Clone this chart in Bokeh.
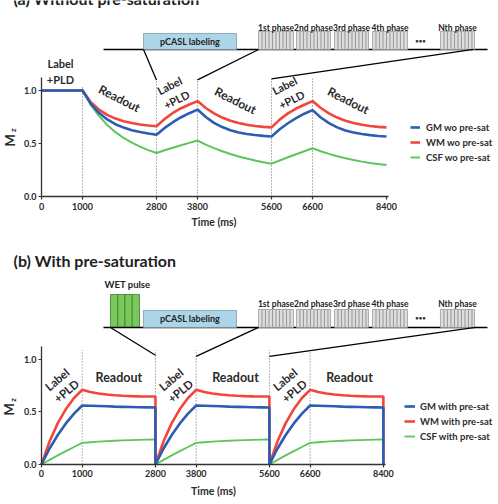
import math
from bokeh.plotting import figure
from bokeh.models import Range1d, Legend, LegendItem, FixedTicker, PrintfTickFormatter
from bokeh.layouts import column
from bokeh.embed import file_html
from bokeh.resources import INLINE
from bokeh.core.properties import value

FONT = "Lato"
TXT = "#2b2b2b"
BLUE = "#2d5db3"
RED = "#f2463c"
GREEN = "#5fc45a"

# ---------------- data: panel (a) without pre-saturation ----------------
time_a = [0, 1000, 1200, 1400, 1600, 1800, 2000, 2200, 2400, 2600, 2800,
          3000, 3200, 3400, 3600, 3800,
          4000, 4200, 4400, 4600, 4800, 5000, 5200, 5400, 5600,
          5800, 6000, 6200, 6400, 6600,
          6800, 7000, 7200, 7400, 7600, 7800, 8000, 8200, 8400]
gm_a = [1.0, 1.0, 0.875, 0.79, 0.727, 0.682, 0.65, 0.626, 0.608, 0.594, 0.582,
        0.647, 0.701, 0.748, 0.786, 0.82,
        0.75, 0.695, 0.655, 0.625, 0.603, 0.59, 0.58, 0.572, 0.566,
        0.634, 0.691, 0.74, 0.781, 0.815,
        0.745, 0.692, 0.652, 0.623, 0.603, 0.589, 0.579, 0.571, 0.566]
wm_a = [1.0, 1.0, 0.89, 0.82, 0.77, 0.735, 0.71, 0.693, 0.68, 0.67, 0.663,
        0.732, 0.788, 0.833, 0.868, 0.9,
        0.835, 0.785, 0.745, 0.715, 0.693, 0.677, 0.665, 0.657, 0.652,
        0.725, 0.784, 0.83, 0.866, 0.9,
        0.835, 0.785, 0.745, 0.715, 0.693, 0.677, 0.665, 0.657, 0.652]
csf_a = [1.0, 1.0, 0.865, 0.76, 0.675, 0.607, 0.552, 0.508, 0.471, 0.438, 0.41,
         0.436, 0.46, 0.484, 0.506, 0.528,
         0.49, 0.456, 0.427, 0.401, 0.378, 0.358, 0.34, 0.324, 0.31,
         0.34, 0.37, 0.399, 0.427, 0.455,
         0.427, 0.402, 0.38, 0.361, 0.344, 0.329, 0.316, 0.306, 0.298]

# ---------------- data: panel (b) with pre-saturation (one repeated cycle) ----------------
cycle_time_b = [0, 200, 400, 600, 800, 1000, 1200, 1400, 1600, 1800, 2000, 2200, 2400, 2600, 2800, 2800]
gm_cycle_b = [0, 0.152, 0.281, 0.391, 0.484, 0.562, 0.56, 0.557, 0.554, 0.551, 0.549, 0.547, 0.545, 0.544, 0.543, 0]
wm_cycle_b = [0, 0.221, 0.394, 0.528, 0.633, 0.711, 0.69, 0.676, 0.666, 0.659, 0.654, 0.651, 0.649, 0.648, 0.647, 0]
csf_cycle_b = [0, 0.044, 0.087, 0.127, 0.167, 0.206, 0.212, 0.217, 0.222, 0.226, 0.229, 0.232, 0.234, 0.236, 0.238, 0]
cycle_starts_b = [0, 2800, 5600]

x_ticks = [0, 1000, 2800, 3800, 5600, 6600, 8400]
y_ticks = [0, 0.5, 1.0]
boundaries = [1000, 2800, 3800, 5600, 6600]
phase_labels = ["1st phase", "2nd phase", "3rd phase", "4th phase", "Nth phase"]
legend_a = ["GM wo pre-sat", "WM wo pre-sat", "CSF wo pre-sat"]
legend_b = ["GM with pre-sat", "WM with pre-sat", "CSF with pre-sat"]

time_b = [s + t for s in cycle_starts_b for t in cycle_time_b]
gm_b = gm_cycle_b * len(cycle_starts_b)
wm_b = wm_cycle_b * len(cycle_starts_b)
csf_b = csf_cycle_b * len(cycle_starts_b)


def base_fig(frame_h, x_start, x_end, y_start, y_end):
    p = figure(frame_width=498, frame_height=frame_h,
               x_range=Range1d(x_start, x_end), y_range=Range1d(y_start, y_end),
               output_backend="svg", toolbar_location=None,
               min_border=0, min_border_left=0, min_border_right=0,
               min_border_top=0, min_border_bottom=0)
    p.grid.visible = False
    p.outline_line_color = None
    p.xaxis.fixed_location = 0
    p.yaxis.fixed_location = 0
    p.xaxis.ticker = FixedTicker(ticks=x_ticks)
    p.yaxis.ticker = FixedTicker(ticks=y_ticks)
    p.yaxis.formatter = PrintfTickFormatter(format="%.1f")
    p.xaxis.bounds = (0, 8450)
    p.yaxis.bounds = (0, 1.12)
    for ax in (p.xaxis[0], p.yaxis[0]):
        ax.axis_line_color = "#333333"
        ax.axis_line_width = 1.3
        ax.major_tick_line_color = "#333333"
        ax.major_tick_line_width = 1.2
        ax.major_tick_in = 0
        ax.major_tick_out = 3
        ax.minor_tick_line_color = None
        ax.major_label_text_font = FONT
        ax.major_label_text_font_style = "bold"
        ax.major_label_text_font_size = "9px"
        ax.major_label_text_color = TXT
    p.xaxis.major_label_standoff = 3
    p.yaxis.major_label_standoff = 2
    return p


def texts(p, xs, ys, words, size, angle=0.0, align="center", baseline="middle", color=TXT):
    p.text(x=xs, y=ys, text=words, angle=angle, text_font=value(FONT), text_font_style="bold",
           text_font_size=size, text_color=color, text_align=align, text_baseline=baseline)


def legend(p, renderers, labels, loc, gw, standoff):
    items = [LegendItem(label=l, renderers=[r]) for l, r in zip(labels, renderers)]
    lg = Legend(items=items, location=loc, orientation="vertical",
                background_fill_alpha=0, border_line_alpha=0, padding=0, margin=0,
                spacing=3, glyph_width=gw, glyph_height=12, label_height=12,
                label_standoff=standoff, label_text_font=FONT,
                label_text_font_style="bold", label_text_font_size="9.5px",
                label_text_color=TXT)
    p.add_layout(lg)


def schematic(p, base, pcasl, ph_left, ph_right, ph_top, ph_lab_y, dots, conn, stripe_step):
    p.segment(x0=[base[0]], y0=[base[2]], x1=[base[1]], y1=[base[2]], line_color="black", line_width=1.4)
    p.quad(left=[pcasl[0]], right=[pcasl[1]], bottom=[pcasl[2]], top=[pcasl[3]],
           fill_color="#acd5e8", line_color="#7f9aa8", line_width=0.8)
    texts(p, [(pcasl[0] + pcasl[1]) / 2], [(pcasl[2] + pcasl[3]) / 2], ["pCASL labeling"], "9px",
          color="#222222")
    p.quad(left=ph_left, right=ph_right, bottom=[base[2]] * len(ph_left), top=[ph_top] * len(ph_left),
           fill_color="#dedede", line_color="#9a9a9a", line_width=0.8)
    sx = []
    for a, b in zip(ph_left, ph_right):
        k = a + stripe_step
        while k < b - stripe_step * 0.4:
            sx.append(k)
            k += stripe_step
    p.segment(x0=sx, y0=[base[2]] * len(sx), x1=sx, y1=[ph_top] * len(sx),
              line_color="#9c9c9c", line_width=1.1)
    texts(p, [(a + b) / 2 for a, b in zip(ph_left, ph_right)], [ph_lab_y] * len(ph_left),
          phase_labels, "8.5px", color="#222222")
    texts(p, [dots[0]], [dots[1]], ["•••"], "6px", color="#333333")
    p.segment(x0=conn[0], y0=conn[1], x1=conn[2], y1=conn[3], line_color="black", line_width=1.3)


# ---------------- panel (a) ----------------
pa = base_fig(240, -998, 11127, -0.415, 1.849)
pa.segment(x0=boundaries, y0=[0] * 5, x1=boundaries, y1=[1.03, 1.11, 1.11, 1.11, 1.11],
           line_color="#666666", line_width=1, line_dash="1 2")
schematic(pa, (1510, 10860, 1.387), (2484, 4748, 1.387, 1.538),
          [5284, 6209, 7134, 8059, 9715], [6136, 7037, 7962, 8912, 10543], 1.557, 1.594,
          (9228, 1.47),
          ([2484, 3800, 5600], [1.387, 1.10, 1.11], [2800, 5284, 10518], [1.10, 1.387, 1.387]), 85)
rc = pa.line(time_a, csf_a, line_color=GREEN, line_width=2)
rw = pa.line(time_a, wm_a, line_color=RED, line_width=2.6)
rg = pa.line(time_a, gm_a, line_color=BLUE, line_width=2.6)
legend(pa, [rg, rw, rc], legend_a, (410, 77), 10, 6)
texts(pa, [463, 463], [1.255, 1.104], ["Label", "+PLD"], "11px")
texts(pa, [1899, 4724, 7475], [0.925, 0.906, 0.906], ["Readout"] * 3, "12px", math.radians(-27))
texts(pa, [3117, 5917], [1.047, 1.047], ["Label"] * 2, "11px", math.radians(27))
texts(pa, [3287, 6087], [0.915, 0.915], ["+PLD"] * 2, "11px", math.radians(27))
texts(pa, [-682], [1.864], ["(a) Without pre-saturation"], "16px", align="left", baseline="alphabetic",
      color="#222222")
texts(pa, [-770], [0.53], ["M"], "13px", math.pi / 2)
texts(pa, [-694], [0.625], ["z"], "8px", math.pi / 2)
texts(pa, [4200], [-0.245], ["Time (ms)"], "10.5px")

# ---------------- panel (b) ----------------
pb = base_fig(264, -1007, 11229, -0.381, 2.133)
pb.segment(x0=boundaries, y0=[0] * 5, x1=boundaries, y1=[1.09] * 5,
           line_color="#666666", line_width=1, line_dash="1 2")
pb.quad(left=[1695, 1873, 2051, 2230], right=[1873, 2051, 2230, 2408],
        bottom=[1.305] * 4, top=[1.619] * 4, fill_color="#78c85a", line_color="#3f7a34", line_width=0.8)
schematic(pb, (1523, 10958, 1.305), (2506, 4791, 1.305, 1.467),
          [5332, 6265, 7199, 8133, 9803], [6192, 7101, 8034, 8993, 10639], 1.476, 1.533,
          (9312, 1.40),
          ([1695, 3800, 5600], [1.305, 1.03, 1.03], [2800, 5332, 10663], [1.04, 1.305, 1.305]), 86)
texts(pb, [2113], [1.714], ["WET pulse"], "9.5px", color="#222222")
rc2 = pb.line(time_b, csf_b, line_color=GREEN, line_width=1.8)
rw2 = pb.line(time_b, wm_b, line_color=RED, line_width=2.6)
rg2 = pb.line(time_b, gm_b, line_color=BLUE, line_width=2.6)
legend(pb, [rg2, rw2, rc2], legend_b, (404, 62), 11, 5)
texts(pb, [385, 3185, 5985], [0.81] * 3, ["Label"] * 3, "11.5px", math.radians(40))
texts(pb, [610, 3410, 6210], [0.70] * 3, ["+PLD"] * 3, "11.5px", math.radians(40))
texts(pb, [1900, 4767, 7568], [0.829] * 3, ["Readout"] * 3, "12.5px")
texts(pb, [-688], [1.943], ["(b) With pre-saturation"], "16px", align="left", baseline="alphabetic",
      color="#222222")
texts(pb, [-790], [0.525], ["M"], "13px", math.pi / 2)
texts(pb, [-700], [0.615], ["z"], "8px", math.pi / 2)
texts(pb, [4226], [-0.257], ["Time (ms)"], "10.5px")

layout = column(pa, pb)
open("out.html", "w").write(file_html(layout, INLINE))
